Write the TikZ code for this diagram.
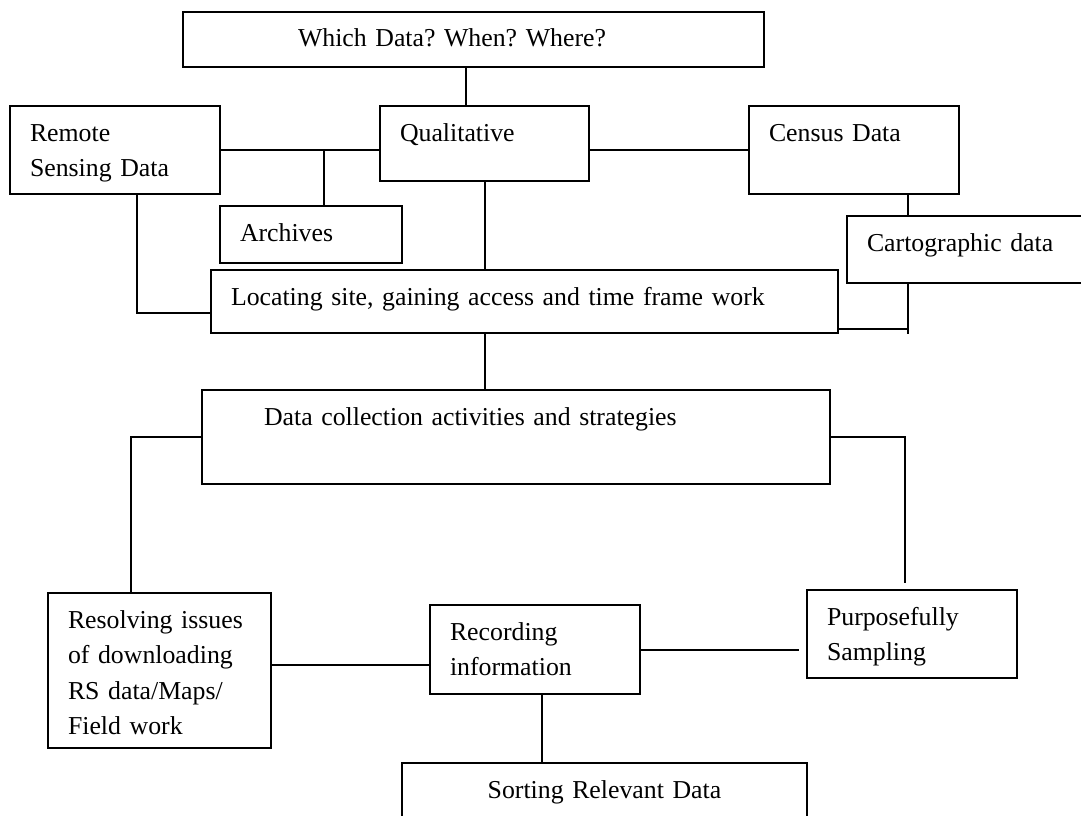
\documentclass[tikz,border=0pt]{standalone}
\usepackage{fontspec}
\setmainfont{Liberation Serif}
\usepackage{xcolor}

\begin{document}
\begin{tikzpicture}[x=1pt, y=-1pt,
    font=\fontsize{25.8pt}{35.5pt}\selectfont\frenchspacing,
    box/.style={draw, line width=2pt, anchor=north west, inner xsep=20pt,
      inner ysep=0pt, align=left, text height=35pt},
    link/.style={line width=2pt}]
  \fill[white] (0,0) rectangle (1081,816);
  \useasboundingbox (0,0) rectangle (1081,816);

  % boxes
  \node[box, inner xsep=115pt, text width=351pt, text depth=20pt] (which) at (182,11) {Which Data? When? Where?};
  \node[box, text width=170pt, text depth=53pt] (rs) at (9,105) {Remote\\Sensing Data};
  \node[box, text width=169pt, text depth=40pt] (qual) at (379,105) {Qualitative};
  \node[box, text width=170pt, text depth=53pt] (census) at (748,105) {Census Data};
  \node[box, text width=142pt, text depth=22pt] (arch) at (219,205) {Archives};
  \node[box, text width=230pt, text depth=32pt] (carto) at (846,215) {Cartographic data};
  \node[box, text width=587pt, text depth=28pt] (loc) at (210,269) {Locating site, gaining access and time frame work};
  \node[box, inner xsep=62pt, text width=504pt, text depth=59pt] (dc) at (201,389) {Data collection activities and strategies};
  \node[box, text width=183pt, text depth=120pt] (res) at (47,592) {Resolving issues\\of downloading\\RS data/Maps/\\Field work};
  \node[box, text width=170pt, text depth=54pt] (rec) at (429,604) {Recording\\information};
  \node[box, text width=170pt, text depth=53pt] (purp) at (806,589) {Purposefully\\Sampling};
  \node[box, align=center, text width=365pt, text depth=45pt] (sort) at (401,762) {Sorting Relevant Data};

  % links
  \draw[link] ([xshift=87pt]qual.north west) -- ([xshift=87pt]qual.north west |- which.south);
  \draw[link] (rs.east) -- (rs.east -| qual.west);
  \draw[link] ([xshift=105pt]arch.north west) -- ([xshift=105pt]arch.north west |- rs.east);
  \draw[link] (census.west) -- (census.west -| qual.east);
  \draw[link] ([xshift=160pt]census.south west) -- ([xshift=160pt]census.south west |- carto.north);
  \draw[link] ([xshift=128pt]rs.south west) |- ([yshift=-11pt]loc.west);
  \draw[link] (qual.south) -- (qual.south |- loc.north);
  \coordinate (cend) at ([xshift=62pt,yshift=-50pt]carto.south west);
  \draw[link] ([xshift=62pt]carto.south west) -- (cend);
  \draw[link] ([yshift=-27pt]loc.east) -- ([yshift=-27pt]loc.east -| cend);
  \draw[link] (qual.south |- loc.south) -- (qual.south |- dc.north);
  \draw[link] (dc.west) -| ([xshift=84pt]res.north west);
  \draw[link] (dc.east) -| ([xshift=99pt,yshift=6pt]purp.north west);
  \draw[link] ([yshift=6pt]res.east) -- ([yshift=6pt]res.east -| rec.west);
  \draw[link] (rec.east) -- ([xshift=-7pt]rec.east -| purp.west);
  \draw[link] ([xshift=7pt]rec.south) -- ([xshift=7pt]rec.south |- sort.north);
\end{tikzpicture}
\end{document}
